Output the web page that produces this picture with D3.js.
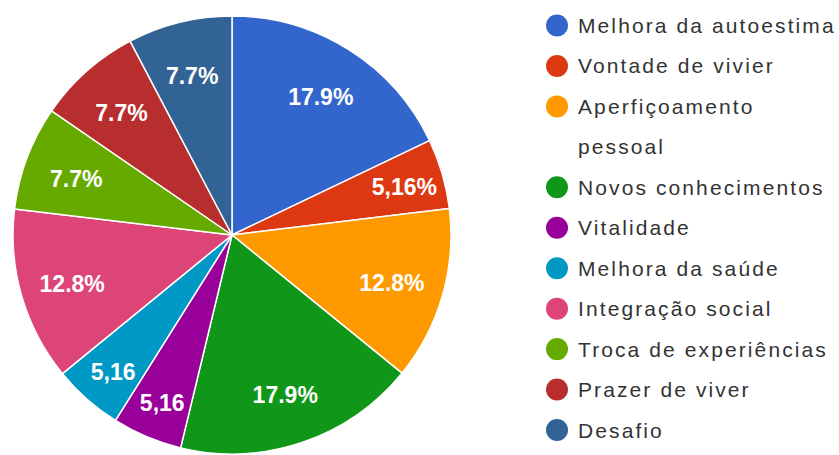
<!DOCTYPE html>
<html>
<head>
<meta charset="utf-8">
<script src="https://cdn.jsdelivr.net/npm/d3@7"></script>
<style>
  html, body { margin: 0; padding: 0; background: #ffffff; }
  svg { display: block; }
</style>
</head>
<body>
<svg id="chart" width="839" height="455"></svg>
<script>
// ---- data ----
const categories = [
  "Melhora da autoestima",
  "Vontade de vivier",
  "Aperfiçoamento pessoal",
  "Novos conhecimentos",
  "Vitalidade",
  "Melhora da saúde",
  "Integração social",
  "Troca de experiências",
  "Prazer de viver",
  "Desafio"
];
const values = [17.9, 5.16, 12.8, 17.9, 5.16, 5.16, 12.8, 7.7, 7.7, 7.7];
const sliceLabels = ["17.9%", "5,16%", "12.8%", "17.9%", "5,16", "5,16", "12.8%", "7.7%", "7.7%", "7.7%"];
const colors = ["#3366cc", "#dc3912", "#ff9900", "#109618", "#990099",
                "#0099c6", "#dd4477", "#66aa00", "#b82e2e", "#316395"];

// ---- layout ----
const svg = d3.select("#chart");
const cx = 232, cy = 235, R = 219;

const color = d3.scaleOrdinal().domain(categories).range(colors);

const pie = d3.pie().sort(null).value(d => d.value).startAngle(0).endAngle(2 * Math.PI);
const data = categories.map((c, i) => ({ name: c, value: values[i], label: sliceLabels[i] }));
const arcs = pie(data);

const arc = d3.arc().innerRadius(0).outerRadius(R);

const g = svg.append("g").attr("transform", `translate(${cx},${cy})`);

g.selectAll("path.slice")
  .data(arcs)
  .enter().append("path")
  .attr("class", "slice")
  .attr("d", arc)
  .attr("fill", d => color(d.data.name))
  .attr("stroke", "#ffffff")
  .attr("stroke-width", 1.5)
  .attr("stroke-linejoin", "round");

g.selectAll("text.lbl")
  .data(arcs)
  .enter().append("text")
  .attr("class", "lbl")
  .attr("transform", d => {
    const f = d.data.value < 6 ? 0.82 : 0.76;
    const la = d3.arc().innerRadius(R * f).outerRadius(R * f);
    const [x, y] = la.centroid(d);
    return `translate(${x},${y})`;
  })
  .attr("text-anchor", "middle")
  .attr("dy", "0.45em")
  .attr("font-family", "Liberation Sans, Arial, sans-serif")
  .attr("font-size", 23)
  .attr("font-weight", "bold")
  .attr("fill", "#ffffff")
  .text(d => d.data.label);

// ---- legend ----
const legX = 557, legTextX = 578, legY0 = 25.5, lineStep = 40.45, maxW = 262;
const leg = svg.append("g");
let line = 0;
data.forEach((d, i) => {
  const y = legY0 + line * lineStep;
  leg.append("circle")
    .attr("cx", legX).attr("cy", y).attr("r", 11)
    .attr("fill", color(d.name));
  const t = leg.append("text")
    .attr("x", legTextX).attr("y", y + 7.5)
    .attr("font-family", "Liberation Sans, Arial, sans-serif")
    .attr("font-size", 21)
    .attr("letter-spacing", "2.1px")
    .attr("fill", "#333333");
  // word wrap
  const words = d.name.split(" ");
  let cur = [];
  let ts = t.append("tspan").attr("x", legTextX).attr("dy", 0);
  words.forEach(w => {
    cur.push(w);
    ts.text(cur.join(" "));
    if (ts.node().getComputedTextLength() > maxW && cur.length > 1) {
      cur.pop();
      ts.text(cur.join(" "));
      cur = [w];
      line += 1;
      ts = t.append("tspan").attr("x", legTextX).attr("dy", lineStep).text(w);
    }
  });
  line += 1;
});
</script>
</body>
</html>
